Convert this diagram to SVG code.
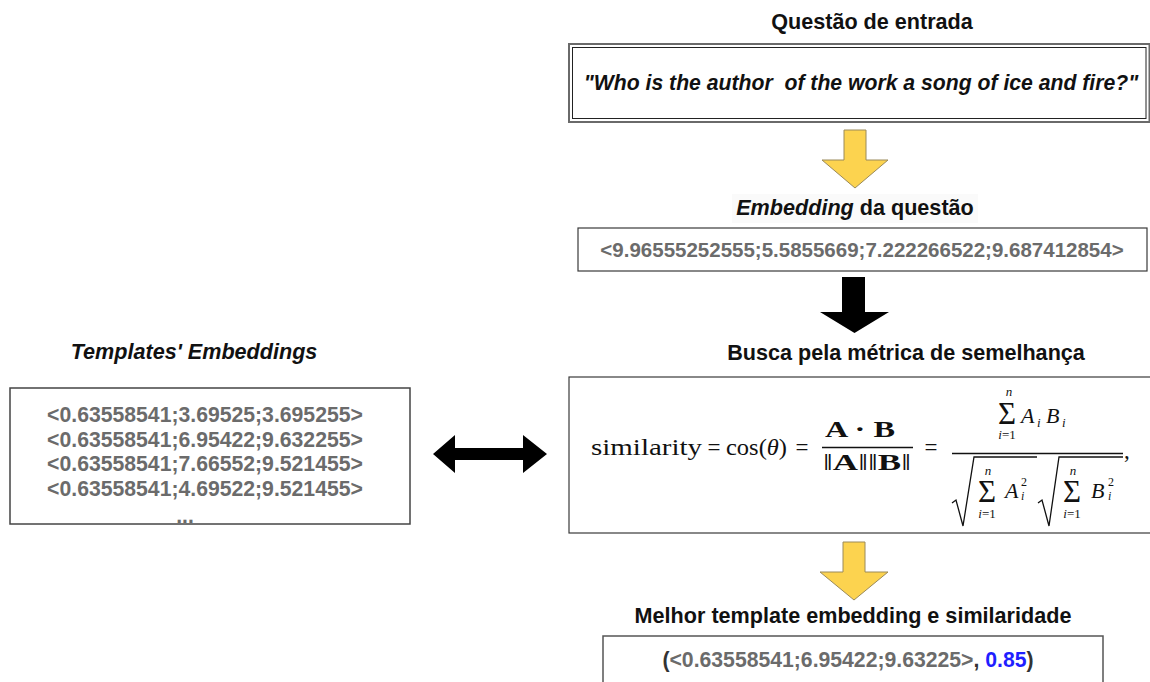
<svg xmlns="http://www.w3.org/2000/svg" width="1150" height="682" viewBox="0 0 1150 682">
  <style>
    .title { font-family: "Liberation Sans", Arial, sans-serif; font-size: 21.6px; font-weight: bold; fill: #111; }
    .val { font-family: "Liberation Sans", Arial, sans-serif; font-size: 21.2px; font-weight: bold; fill: #6b6b6b; }
    .box { fill: #fff; stroke: #3a3a3a; stroke-width: 1.2; }
    .yarrow { fill: #fcd34f; stroke: #9a8a5a; stroke-width: 1; }
    .barrow { fill: #000; }
    .m { font-family: "Liberation Serif", "Times New Roman", "DejaVu Serif", serif; fill: #111; }
    .mline { stroke: #111; stroke-width: 1.3; fill: none; }
  </style>

  <rect width="1150" height="682" fill="#fff"/>

  <!-- input question -->
  <g id="input-question">
    <text class="title" x="872" y="29" text-anchor="middle">Questão de entrada</text>
    <rect x="569" y="44" width="580.5" height="78" fill="#fff" stroke="#6a6a6a" stroke-width="2"/>
    <rect x="572.5" y="47.5" width="573.5" height="71" fill="none" stroke="#222" stroke-width="1"/>
    <text class="title" x="861" y="90" text-anchor="middle" font-style="italic" font-size="21.2px" style="font-size:21.2px" xml:space="preserve">"Who is the author  of the work a song of ice and fire?"</text>
  </g>

  <!-- question embedding -->
  <g id="question-embedding">
    <rect x="732" y="194" width="246" height="29" fill="#fafafa"/>
    <text class="title" x="855" y="215" text-anchor="middle"><tspan font-style="italic">Embedding</tspan> da questão</text>
    <rect class="box" x="578" y="228" width="569" height="43"/>
    <text class="val" x="862" y="257" text-anchor="middle" style="font-size:20.5px">&lt;9.96555252555;5.5855669;7.222266522;9.687412854&gt;</text>
  </g>

  <!-- template embeddings -->
  <g id="template-embeddings">
    <text class="title" x="194" y="359" text-anchor="middle" font-style="italic">Templates' Embeddings</text>
    <rect x="10" y="388" width="400" height="136" fill="#fff" stroke="#444" stroke-width="1.5"/>
    <text class="val" x="205" y="422" text-anchor="middle">&lt;0.63558541;3.69525;3.695255&gt;</text>
    <text class="val" x="205" y="447" text-anchor="middle">&lt;0.63558541;6.95422;9.632255&gt;</text>
    <text class="val" x="205" y="471" text-anchor="middle">&lt;0.63558541;7.66552;9.521455&gt;</text>
    <text class="val" x="205" y="496" text-anchor="middle">&lt;0.63558541;4.69522;9.521455&gt;</text>
    <text class="val" x="185" y="523" text-anchor="middle">...</text>
  </g>

  <!-- similarity search -->
  <g id="similarity-search">
    <text class="title" x="906" y="360" text-anchor="middle">Busca pela métrica de semelhança</text>
    <rect class="box" x="569" y="377" width="590" height="156"/>
    <!-- similarity = cos(theta) = -->
    <text class="m" x="591" y="455" font-size="23" textLength="111" lengthAdjust="spacingAndGlyphs">similarity</text>
    <text class="m" x="714" y="455" font-size="23" text-anchor="middle">=</text>
    <text class="m" x="726" y="455" font-size="23" textLength="61" lengthAdjust="spacingAndGlyphs">cos(<tspan font-style="italic">θ</tspan>)</text>
    <text class="m" x="802" y="455" font-size="23" text-anchor="middle">=</text>
    <!-- A.B / |A||B| -->
    <text class="m" x="860" y="437" font-size="23" font-weight="bold" text-anchor="middle" textLength="70" lengthAdjust="spacingAndGlyphs">A · B</text>
    <line class="mline" x1="822" y1="447.5" x2="913" y2="447.5"/>
    <text class="m" x="867" y="470" font-size="23" text-anchor="middle" textLength="88" lengthAdjust="spacingAndGlyphs">‖<tspan font-weight="bold">A</tspan>‖‖<tspan font-weight="bold">B</tspan>‖</text>
    <text class="m" x="931" y="455" font-size="23" text-anchor="middle">=</text>
    <!-- sum A_i B_i -->
    <line class="mline" x1="952" y1="453.5" x2="1123" y2="453.5"/>
    <text class="m" x="1009" y="396" font-size="13" font-style="italic" text-anchor="middle">n</text>
    <text class="m" x="1007" y="424" font-size="31" text-anchor="middle">Σ</text>
    <text class="m" x="1007" y="439" font-size="13" text-anchor="middle"><tspan font-style="italic">i</tspan>=1</text>
    <text class="m" x="1021" y="423" font-size="22" font-style="italic">A</text>
    <text class="m" x="1037" y="427" font-size="13" font-style="italic">i</text>
    <text class="m" x="1046" y="423" font-size="22" font-style="italic">B</text>
    <text class="m" x="1062" y="427" font-size="13" font-style="italic">i</text>
    <!-- sqrt(sum A_i^2) -->
    <path class="mline" d="M952,503 L956,500 L963,526 L974,457 L1037,457"/>
    <text class="m" x="988" y="475" font-size="13" font-style="italic" text-anchor="middle">n</text>
    <text class="m" x="987" y="502" font-size="31" text-anchor="middle">Σ</text>
    <text class="m" x="987" y="518" font-size="13" text-anchor="middle"><tspan font-style="italic">i</tspan>=1</text>
    <text class="m" x="1005" y="498" font-size="22" font-style="italic">A</text>
    <text class="m" x="1021" y="486" font-size="12">2</text>
    <text class="m" x="1021" y="500" font-size="12" font-style="italic">i</text>
    <!-- sqrt(sum B_i^2) -->
    <path class="mline" d="M1038,503 L1042,500 L1049,526 L1059,457 L1123,457"/>
    <text class="m" x="1073" y="475" font-size="13" font-style="italic" text-anchor="middle">n</text>
    <text class="m" x="1072" y="502" font-size="31" text-anchor="middle">Σ</text>
    <text class="m" x="1072" y="518" font-size="13" text-anchor="middle"><tspan font-style="italic">i</tspan>=1</text>
    <text class="m" x="1091" y="498" font-size="22" font-style="italic">B</text>
    <text class="m" x="1108" y="486" font-size="12">2</text>
    <text class="m" x="1108" y="500" font-size="12" font-style="italic">i</text>
    <text class="m" x="1124" y="458" font-size="23">,</text>
  </g>

  <!-- best template -->
  <g id="best-template">
    <text class="title" x="853" y="623" text-anchor="middle">Melhor template embedding e similaridade</text>
    <rect x="603" y="636" width="500" height="60" fill="#fff" stroke="#555" stroke-width="1.5"/>
    <text class="val" x="848" y="667" text-anchor="middle"><tspan fill="#333">(</tspan>&lt;0.63558541;6.95422;9.63225&gt;<tspan fill="#333">, </tspan><tspan fill="#1f1fff">0.85</tspan><tspan fill="#333">)</tspan></text>
  </g>

  <!-- connectors -->
  <g id="connectors">
    <polygon class="yarrow" points="844,130 866,130 866,160 888,160 855,188 822,160 844,160"/>
    <polygon class="barrow" points="842,277 865,277 865,312 889,312 854.5,333 820,312 842,312"/>
    <polygon class="barrow" points="433,454 455,435 455,448 523,448 523,435 547,454 523,473 523,460 455,460 455,473"/>
    <polygon class="yarrow" points="843,542 865,542 865,572 888,572 854,600 820,572 843,572"/>
  </g>
</svg>
